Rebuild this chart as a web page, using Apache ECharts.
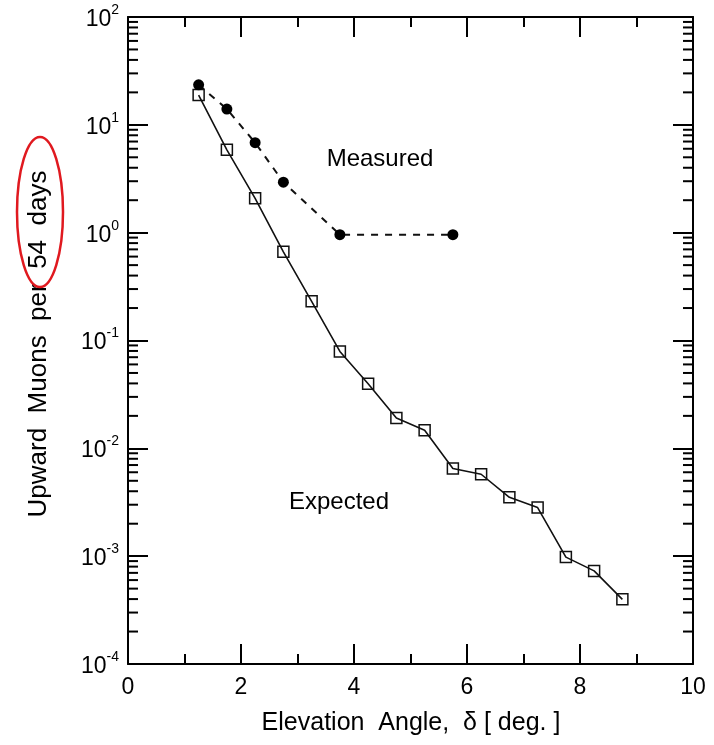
<!DOCTYPE html>
<html>
<head>
<meta charset="utf-8">
<script src="https://cdn.jsdelivr.net/npm/echarts@6/dist/echarts.min.js"></script>
<style>
  html, body { margin: 0; padding: 0; background: #fff; }
  #chart { width: 714px; height: 745px; }
</style>
</head>
<body>
<div id="chart"></div>
<script>
// ---- Data ----
const expectedAngles = [1.25, 1.75, 2.25, 2.75, 3.25, 3.75, 4.25, 4.75, 5.25, 5.75, 6.25, 6.75, 7.25, 7.75, 8.25, 8.75];
const expectedValues = [18.9, 5.86, 2.08, 0.664, 0.231, 0.0791, 0.0397, 0.0191, 0.0147, 0.0065, 0.00575, 0.00351, 0.00282, 0.00098, 0.00073, 0.000398];
const measuredAngles = [1.25, 1.75, 2.25, 2.75, 3.75, 5.75];
const measuredValues = [23.5, 14.0, 6.83, 2.94, 0.958, 0.958];

const xTickLabels = ['0', '2', '4', '6', '8', '10'];
const yDecades = [1e-4, 1e-3, 1e-2, 1e-1, 1, 10, 100];
const yTitle = 'Upward  Muons  per  54  days';
const xTitle = 'Elevation  Angle,  \u03b4 [ deg. ]';
const labelMeasured = 'Measured';
const labelExpected = 'Expected';

// minor tick positions on the log axis (2..9 x each decade)
const minorTickValues = [];
yDecades.slice(0, -1).forEach(d => {
  for (let m = 2; m <= 9; m++) minorTickValues.push(+(m * d).toPrecision(3));
});

const FONT = '"Liberation Sans", Arial, Helvetica, sans-serif';
const chart = echarts.init(document.getElementById('chart'), null, { renderer: 'canvas' });

const axisLineStyle = { show: true, onZero: false, lineStyle: { color: '#000', width: 2 } };

const xAxisBase = {
  type: 'value', min: 0, max: 10, interval: 2,
  axisLine: axisLineStyle,
  axisTick: { show: true, inside: true, length: 20, lineStyle: { color: '#000', width: 2 } },
  minorTick: { show: true, splitNumber: 2, length: 10, lineStyle: { color: '#000', width: 2 } },
  splitLine: { show: false },
  minorSplitLine: { show: false }
};

const yAxisBase = {
  type: 'log', logBase: 10, min: 1e-4, max: 100, splitNumber: 6,
  axisLine: axisLineStyle,
  axisTick: { show: true, inside: true, length: 20, lineStyle: { color: '#000', width: 2 } },
  splitLine: { show: false }
};

const option = {
  animation: false,
  backgroundColor: '#fff',
  grid: { left: 128, right: 21, top: 17, bottom: 81, containLabel: false },
  xAxis: [
    Object.assign({}, xAxisBase, {
      position: 'bottom',
      axisLabel: {
        show: true, margin: 12, color: '#000', fontFamily: FONT, fontSize: 23,
        formatter: v => xTickLabels[Math.round(v / 2)]
      }
    }),
    Object.assign({}, xAxisBase, { position: 'top', axisLabel: { show: false } })
  ],
  yAxis: [
    Object.assign({}, yAxisBase, {
      position: 'left',
      axisLabel: {
        show: true, margin: 9, color: '#000', fontFamily: FONT,
        formatter: v => '{b|10}{e|' + Math.round(Math.log10(v)) + '}',
        rich: {
          b: { fontSize: 23, fontFamily: FONT, color: '#000', lineHeight: 28, verticalAlign: 'bottom' },
          e: { fontSize: 14, fontFamily: FONT, color: '#000', lineHeight: 14, verticalAlign: 'top' }
        }
      }
    }),
    Object.assign({}, yAxisBase, { position: 'right', axisLabel: { show: false } })
  ],
  series: [
    {
      name: 'minorTicks', type: 'custom', coordinateSystem: 'cartesian2d',
      xAxisIndex: 0, yAxisIndex: 0, silent: true, clip: false,
      data: minorTickValues.map(v => [0, v]),
      encode: { x: 0, y: 1 },
      renderItem: function (params, api) {
        const v = api.value(1);
        const pl = api.coord([0, v]);
        const pr = api.coord([10, v]);
        const st = { stroke: '#000', lineWidth: 2 };
        return {
          type: 'group',
          children: [
            { type: 'line', shape: { x1: pl[0], y1: pl[1], x2: pl[0] + 10, y2: pl[1] }, style: st },
            { type: 'line', shape: { x1: pr[0] - 10, y1: pr[1], x2: pr[0], y2: pr[1] }, style: st }
          ]
        };
      }
    },
    {
      name: 'Expected', type: 'line', xAxisIndex: 0, yAxisIndex: 0,
      data: expectedAngles.map((x, i) => [x, expectedValues[i]]),
      symbol: 'rect', symbolSize: 11,
      itemStyle: { color: 'rgba(0,0,0,0)', borderColor: '#111', borderWidth: 1.5 },
      lineStyle: { color: '#111', width: 1.6, type: 'solid' },
      z: 3
    },
    {
      name: 'Measured', type: 'line', xAxisIndex: 0, yAxisIndex: 0,
      data: measuredAngles.map((x, i) => [x, measuredValues[i]]),
      symbol: 'circle', symbolSize: 11,
      itemStyle: { color: '#000', borderColor: '#000', borderWidth: 0 },
      lineStyle: { color: '#111', width: 2, type: [7, 7] },
      z: 4
    }
  ],
  graphic: [
    {
      type: 'text', x: 39, y: 344, rotation: Math.PI / 2,
      style: { text: yTitle, font: '26px ' + FONT, fill: '#000', align: 'center', verticalAlign: 'middle' }
    },
    {
      type: 'ellipse', shape: { cx: 40, cy: 212, rx: 23, ry: 75 },
      style: { fill: 'none', stroke: '#e0191f', lineWidth: 2.5 }, z: 10
    },
    {
      type: 'text', x: 411, y: 723,
      style: { text: xTitle, font: '25px ' + FONT, fill: '#000', align: 'center', verticalAlign: 'middle' }
    },
    {
      type: 'text', x: 380, y: 159,
      style: { text: labelMeasured, font: '24px ' + FONT, fill: '#000', align: 'center', verticalAlign: 'middle' }
    },
    {
      type: 'text', x: 339, y: 502,
      style: { text: labelExpected, font: '24px ' + FONT, fill: '#000', align: 'center', verticalAlign: 'middle' }
    }
  ]
};

chart.setOption(option);
</script>
</body>
</html>
